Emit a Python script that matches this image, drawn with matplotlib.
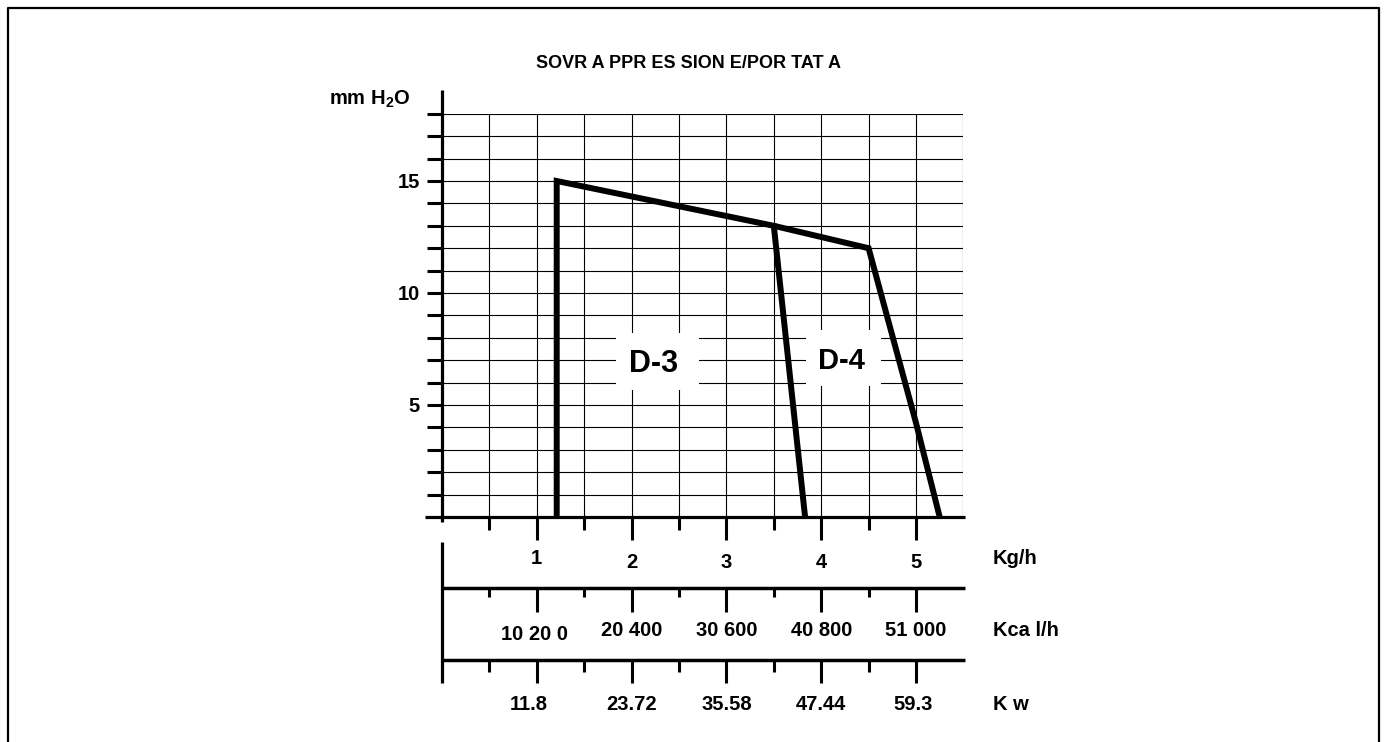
import matplotlib
matplotlib.use('Agg')
import matplotlib.pyplot as plt
import numpy as np
from matplotlib.lines import Line2D
from matplotlib.patches import Rectangle

# ---------------- data ----------------
kg_ticks = [1, 2, 3, 4, 5]
kg_labels = ['1', '2', '3', '4', '5']
kcal_labels = ['10 20 0', '20 400', '30 600', '40 800', '51 000']
kw_labels = ['11.8', '23.72', '35.58', '47.44', '59.3']
half_ticks = [0.5, 1.5, 2.5, 3.5, 4.5]
y_tick_values = list(range(1, 19))
y_labeled = [5, 10, 15]

d3_x = [1.21, 1.21, 3.5, 3.83]
d3_y = [0, 15, 13, 0]
d4_x = [3.5, 4.5, 5.0, 5.25]
d4_y = [13, 12, 4.2, 0]

title = 'SOVR A PPR ES SION E/POR TAT A'
unit_labels = ['Kg/h', 'Kca l/h', 'K w']

# ---------------- style ----------------
plt.rcParams['font.family'] = ['Liberation Sans', 'DejaVu Sans']
plt.rcParams['font.weight'] = 'bold'
plt.rcParams['mathtext.fontset'] = 'custom'
plt.rcParams['mathtext.rm'] = 'Liberation Sans:bold'
plt.rcParams['mathtext.bf'] = 'Liberation Sans:bold'

W, H = 1385, 742
fig = plt.figure(figsize=(W / 100, H / 100), dpi=100)
fig.patch.set_facecolor('white')


def fx(px):
    return px / W


def fy(py):
    return 1 - py / H


X0, X1 = 442, 442 + 5.5 * 94.8
Y0, Y1 = 517, 517 - 18 * 22.4
ax = fig.add_axes([fx(X0), fy(Y0), fx(X1) - fx(X0), fy(Y1) - fy(Y0)])
ax.set_xlim(0, 5.5)
ax.set_ylim(0, 18)
ax.set_facecolor('none')
for s in ax.spines.values():
    s.set_visible(False)


def ydat(py):
    return (517 - py) / 22.4


def xdat(px):
    return (px - 442) / 94.8


K = 'black'
# grid
ax.vlines(np.arange(0.5, 5.51, 0.5), 0, 18, colors=K, lw=0.8, zorder=1)
ax.hlines(np.arange(1, 18.5, 1), 0, 5.5, colors=K, lw=0.8, zorder=1)

# main axes lines
ax.plot([0, 0], [ydat(522), ydat(90)], color=K, lw=2.3, clip_on=False,
        solid_capstyle='butt', zorder=5)
ax.plot([xdat(425), xdat(965)], [0, 0], color=K, lw=2.3, clip_on=False,
        solid_capstyle='butt', zorder=5)

# y ticks
ax.set_yticks(y_tick_values)
ax.set_yticklabels([str(v) if v in y_labeled else '' for v in y_tick_values])
ax.tick_params(axis='y', direction='out', length=11, width=2.2, pad=5,
               labelsize=14.5, colors=K)

# x ticks on main axis (below)
ax.set_xticks(kg_ticks)
ax.set_xticks(half_ticks, minor=True)
ax.tick_params(axis='x', which='major', direction='out', length=16.5,
               width=2.2, labelbottom=False, colors=K)
ax.tick_params(axis='x', which='minor', direction='out', length=9,
               width=2.2, labelbottom=False, colors=K)

# lower scales
ax.plot([0, 0], [ydat(541.7), ydat(682.7)], color=K, lw=2.3, clip_on=False,
        solid_capstyle='butt')
for line_y, minor_end, major_end in [(588.3, 596.7, 611.7), (660, 671.7, 682.7)]:
    ax.plot([0, xdat(965)], [ydat(line_y), ydat(line_y)], color=K, lw=2.5,
            clip_on=False, solid_capstyle='butt')
    ax.vlines(half_ticks, ydat(line_y), ydat(minor_end), colors=K, lw=2.2,
              clip_on=False)
    ax.vlines(kg_ticks, ydat(line_y), ydat(major_end), colors=K, lw=2.2,
              clip_on=False)

for i, (x, lab) in enumerate(zip(kg_ticks, kg_labels)):
    ax.text(x, ydat(559 if i == 0 else 562), lab, ha='center', va='center',
            fontsize=14.5, fontweight='bold')
for i, (x, lab) in enumerate(zip(kg_ticks, kcal_labels)):
    ax.text(x - (0.02 if i == 0 else 0), ydat(635 if i == 0 else 630), lab,
            ha='center', va='center', fontsize=14.5, fontweight='bold')
for i, (x, lab) in enumerate(zip(kg_ticks, kw_labels)):
    ax.text(x - (0.08 if i == 0 else (0.03 if i == 4 else 0)), ydat(705), lab,
            ha='center', va='center', fontsize=14.5, fontweight='bold')

for lab, py in zip(unit_labels, [559, 630, 704.5]):
    ax.text(xdat(993), ydat(py), lab, ha='left', va='center', fontsize=14.5,
            fontweight='bold')

# label boxes
ax.add_patch(Rectangle((xdat(616), ydat(390)), xdat(699) - xdat(616),
                       ydat(333) - ydat(390), facecolor='white',
                       edgecolor='none', zorder=2))
ax.add_patch(Rectangle((xdat(806), ydat(386)), xdat(881) - xdat(806),
                       ydat(330) - ydat(386), facecolor='white',
                       edgecolor='none', zorder=2))
ax.text(xdat(654), ydat(364.5), 'D-3', ha='center', va='center',
        fontsize=22, fontweight='bold', zorder=3)
ax.text(xdat(841.7), ydat(360.8), 'D-4', ha='center', va='center',
        fontsize=21, fontweight='bold', zorder=3)

# curves
for xs, ys in [(d3_x, d3_y), (d4_x, d4_y)]:
    ax.plot(xs, ys, color=K, lw=4.3, solid_joinstyle='miter',
            solid_capstyle='butt', zorder=6, clip_on=False)

# y-axis unit label & title
fig.text(fx(410), fy(99), r'mm H$_\mathrm{2}$O', ha='right', va='center',
         fontsize=14.5, fontweight='bold')
fig.text(fx(689), fy(63.5), title, ha='center', va='center', fontsize=13,
         fontweight='bold')

# outer frame
fig.add_artist(Line2D([fx(7.5), fx(7.5), fx(1379), fx(1379)],
                      [0, fy(8.3), fy(8.3), 0], lw=1.6, color=K,
                      transform=fig.transFigure))

fig.savefig('out.png', dpi=100)
